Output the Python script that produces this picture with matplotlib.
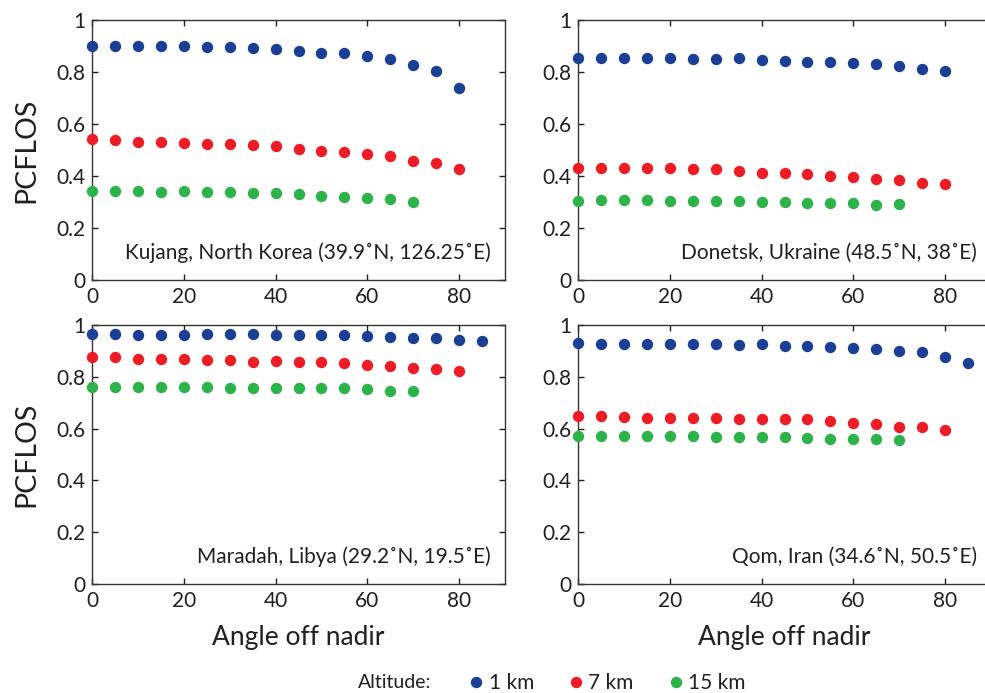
import numpy as np
import matplotlib
matplotlib.use('Agg')
import matplotlib.pyplot as plt
from matplotlib.lines import Line2D

plt.rcParams['font.family'] = ['Lato', 'DejaVu Sans']

# angle off nadir (deg)
angle = [0, 5, 10, 15, 20, 25, 30, 35, 40, 45, 50, 55, 60, 65, 70, 75, 80, 85]

# Kujang
kuj_1 = [0.901, 0.900, 0.899, 0.899, 0.899, 0.895, 0.895, 0.892, 0.887, 0.881,
         0.874, 0.872, 0.862, 0.850, 0.828, 0.805, 0.740]
kuj_7 = [0.541, 0.540, 0.532, 0.529, 0.527, 0.524, 0.523, 0.521, 0.517, 0.505,
         0.497, 0.491, 0.483, 0.478, 0.459, 0.449, 0.427]
kuj_15 = [0.344, 0.344, 0.342, 0.340, 0.341, 0.338, 0.338, 0.336, 0.333, 0.332,
          0.324, 0.321, 0.317, 0.310, 0.301]

# Donetsk
don_1 = [0.855, 0.855, 0.853, 0.853, 0.853, 0.849, 0.849, 0.853, 0.845, 0.842,
         0.840, 0.840, 0.833, 0.832, 0.824, 0.813, 0.805]
don_7 = [0.429, 0.432, 0.429, 0.429, 0.429, 0.427, 0.426, 0.421, 0.413, 0.410,
         0.408, 0.401, 0.396, 0.388, 0.385, 0.374, 0.368]
don_15 = [0.305, 0.308, 0.306, 0.306, 0.305, 0.304, 0.303, 0.303, 0.300, 0.300,
          0.297, 0.297, 0.295, 0.290, 0.292]

# Maradah
mar_1 = [0.964, 0.964, 0.963, 0.963, 0.963, 0.964, 0.964, 0.964, 0.961, 0.961,
         0.960, 0.960, 0.958, 0.955, 0.951, 0.950, 0.942, 0.940]
mar_7 = [0.875, 0.875, 0.868, 0.868, 0.869, 0.865, 0.865, 0.859, 0.860, 0.859,
         0.859, 0.855, 0.847, 0.841, 0.835, 0.829, 0.824]
mar_15 = [0.761, 0.762, 0.761, 0.761, 0.760, 0.760, 0.758, 0.758, 0.757, 0.756,
          0.755, 0.755, 0.751, 0.746, 0.746]

# Qom
qom_1 = [0.929, 0.928, 0.926, 0.926, 0.926, 0.926, 0.926, 0.924, 0.926, 0.919,
         0.919, 0.915, 0.913, 0.908, 0.898, 0.896, 0.878, 0.855]
qom_7 = [0.650, 0.650, 0.644, 0.641, 0.641, 0.641, 0.641, 0.638, 0.638, 0.638,
         0.638, 0.629, 0.621, 0.619, 0.608, 0.605, 0.596]
qom_15 = [0.572, 0.573, 0.572, 0.572, 0.572, 0.571, 0.568, 0.568, 0.568, 0.566,
          0.564, 0.560, 0.560, 0.560, 0.557]

sites = ['Kujang, North Korea (39.9˚N, 126.25˚E)',
         'Donetsk, Ukraine (48.5˚N, 38˚E)',
         'Maradah, Libya (29.2˚N, 19.5˚E)',
         'Qom, Iran (34.6˚N, 50.5˚E)']
altitudes = ['1 km', '7 km', '15 km']
colors = ['#1c3f96', '#ee1c25', '#2db34a']
txtcol = '#231f20'

data = [[kuj_1, kuj_7, kuj_15],
        [don_1, don_7, don_15],
        [mar_1, mar_7, mar_15],
        [qom_1, qom_7, qom_15]]

W, H = 985., 693.
fig = plt.figure(figsize=(W/100, H/100), dpi=100)

# axes boxes in pixels: left, top, right, bottom
boxes = [(92, 20, 505, 280), (578, 20, 991, 280),
         (92, 325, 505, 584), (578, 325, 991, 584)]

for i, (l, t, r, b) in enumerate(boxes):
   ax = fig.add_axes([l/W, 1-b/H, (r-l)/W, (b-t)/H])
   for j in range(3):
      y = data[i][j]
      ax.plot(angle[:len(y)], y, 'o', color=colors[j], markersize=8.2,
              markeredgewidth=0, clip_on=False, zorder=3)
   ax.set_xlim(0, 90)
   ax.set_ylim(0, 1)
   ax.set_xticks([0, 20, 40, 60, 80])
   ax.set_yticks([0, 0.2, 0.4, 0.6, 0.8, 1])
   ax.set_yticklabels(['0', '0.2', '0.4', '0.6', '0.8', '1'])
   ax.tick_params(direction='in', top=True, right=True, length=4, width=1,
                  labelsize=15, colors=txtcol, pad=5)
   for s in ax.spines.values():
      s.set_color('#333333')
      s.set_linewidth(1)
   ax.text(0.966, 0.105, sites[i], transform=ax.transAxes, ha='right',
           va='center', fontsize=15, color=txtcol)
   if i % 2 == 0:
      ax.set_ylabel('PCFLOS', fontsize=20.5, color=txtcol, labelpad=12)
   if i >= 2:
      ax.set_xlabel('Angle off nadir', fontsize=19, color=txtcol, labelpad=10)

# legend along the bottom
fig.text(358/W, 1-683/H, 'Altitude:', fontsize=14, color=txtcol, va='center')
handles = [Line2D([], [], marker='o', linestyle='', color=c, markersize=8.2,
                  markeredgewidth=0) for c in colors]
fig.legend(handles, altitudes, loc='center left', bbox_to_anchor=(466/W, 1-683/H),
           ncol=3, frameon=False, fontsize=15, handletextpad=0.1,
           columnspacing=1.5, handlelength=1.0, borderpad=0, borderaxespad=0,
           labelcolor=txtcol)

plt.savefig('out.png', dpi=100)
